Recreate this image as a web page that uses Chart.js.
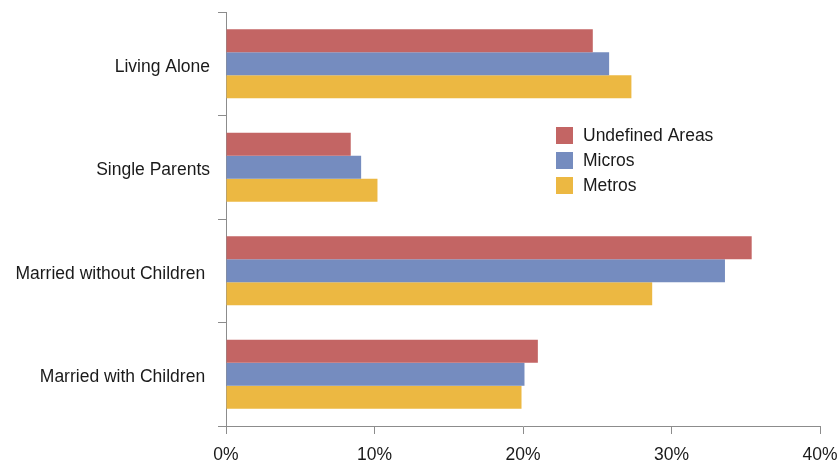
<!DOCTYPE html>
<html>
<head>
<meta charset="utf-8">
<script src="https://cdn.jsdelivr.net/npm/chart.js@4/dist/chart.umd.min.js"></script>
<style>
  body { margin: 0; background: #fff; }
  canvas { display: block; }
</style>
</head>
<body>
<canvas id="chart" width="839" height="466"></canvas>
<script>
// values (percent of households)
const categories = ['Living Alone', 'Single Parents', 'Married without Children ', 'Married with Children '];
const undefinedAreas = [24.7, 8.4, 35.4, 21.0];
const micros = [25.8, 9.1, 33.6, 20.1];
const metros = [27.3, 10.2, 28.7, 19.9];
const seriesNames = ['Undefined Areas', 'Micros', 'Metros'];
const xTicks = [0, 10, 20, 30, 40];

const colors = ['#c36564', '#758cbf', '#ecb842'];
const axisColor = '#8c8c8c';
const textColor = '#1a1a1a';
const font = { family: '"Liberation Sans", Arial, Helvetica, sans-serif', size: 17.5 };

// legend drawn inside the plot, to the right of the short bars
const legendInside = {
  id: 'legendInside',
  afterDraw(chart) {
    const ctx = chart.ctx;
    const x = 556, y0 = 127, box = 17, step = 25;
    ctx.save();
    ctx.font = font.size + 'px ' + font.family;
    ctx.textBaseline = 'middle';
    chart.data.datasets.forEach((ds, i) => {
      const y = y0 + i * step;
      ctx.fillStyle = ds.backgroundColor;
      ctx.fillRect(x, y, box, box);
      ctx.fillStyle = textColor;
      ctx.fillText(ds.label, x + 27, y + box / 2 + 1);
    });
    ctx.restore();
  }
};

// stop the axes from reserving extra room for their end labels
const noEdgePad = axis => {
  axis.paddingLeft = 0;
  axis.paddingRight = 0;
  axis.paddingTop = 0;
  axis.paddingBottom = 0;
};

new Chart(document.getElementById('chart'), {
  type: 'bar',
  data: {
    labels: categories,
    datasets: [undefinedAreas, micros, metros].map((d, i) => ({
      label: seriesNames[i],
      data: d,
      backgroundColor: colors[i],
      borderWidth: 0
    }))
  },
  options: {
    indexAxis: 'y',
    responsive: false,
    animation: false,
    devicePixelRatio: 1,
    layout: { padding: { top: 12, right: 19, left: 0, bottom: 0 } },
    datasets: { bar: { categoryPercentage: 0.667, barPercentage: 1.0 } },
    plugins: {
      legend: { display: false },
      tooltip: { enabled: false }
    },
    scales: {
      x: {
        min: 0,
        max: 40,
        afterBuildTicks(axis) { axis.ticks = xTicks.map(v => ({ value: v })); },
        afterFit(axis) { axis.height = 40; noEdgePad(axis); },
        grid: { drawOnChartArea: false, drawTicks: true, tickLength: 8, color: axisColor },
        border: { color: axisColor, width: 1 },
        ticks: {
          color: textColor,
          font: font,
          padding: 11,
          maxRotation: 0,
          callback: v => v + '%'
        }
      },
      y: {
        afterFit(axis) { axis.width = 226; noEdgePad(axis); },
        grid: { drawOnChartArea: false, drawTicks: true, tickLength: 8, color: axisColor, offset: true },
        border: { color: axisColor, width: 1 },
        ticks: { color: textColor, font: font, padding: 8, labelOffset: 3 }
      }
    }
  },
  plugins: [legendInside]
});
</script>
</body>
</html>
